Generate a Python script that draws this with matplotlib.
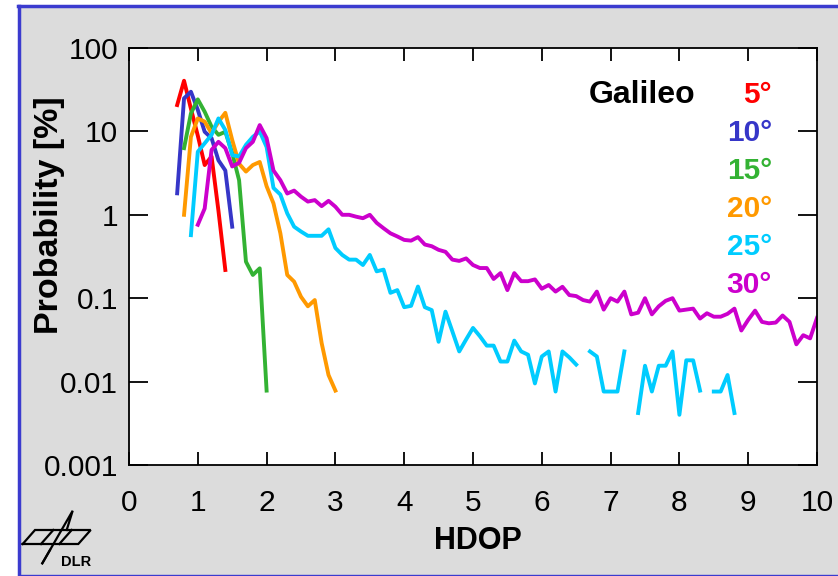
import numpy as np
import matplotlib.pyplot as plt
from matplotlib.patches import Rectangle
from matplotlib.lines import Line2D
from matplotlib.ticker import NullLocator

plt.rcParams['font.family'] = ['Liberation Sans', 'DejaVu Sans']

# elevation masks, colours, first HDOP bin of each curve
labels = ['5°', '10°', '15°', '20°', '25°', '30°']
colors = ['#ff0000', '#3636c8', '#33b233', '#ff9900', '#00ccff', '#cc00cc']
start = [0.7, 0.7, 0.8, 0.8, 0.9, 1.0]

# probability [%] per 0.1 HDOP bin (nan = empty bin)
p5 = [20.7, 40.5, 18.7, 8.9, 3.95, 5.0, 1.12, 0.218]
p10 = [1.81, 24.9, 29.9, 18.1, 9.9, 8.3, 4.5, 3.4, 0.72]
p15 = [6.3, 16.4, 24.2, 17.2, 11.4, 9.1, 9.9, 5.5, 2.6, 0.274, 0.19, 0.228, 0.0078]
p20 = [1.0, 8.6, 14.3, 13.1, 9.5, 13.0, 16.7, 7.9, 4.1, 3.3, 3.95, 4.3, 2.2,
       1.37, 0.6, 0.19, 0.158, 0.104, 0.08, 0.095, 0.029, 0.012, 0.0078]
p25 = [0.57, 5.7, 7.2, 9.1, 14.3, 10.4, 5.2, 5.0, 6.9, 8.6, 10.0, 6.5, 2.1,
       1.75, 1.04, 0.72, 0.63, 0.56, 0.56, 0.56, 0.67, 0.40, 0.33, 0.29,
       0.29, 0.25, 0.33, 0.21, 0.22, 0.116, 0.125, 0.078, 0.081, 0.138,
       0.078, 0.072, 0.030, 0.069, 0.040, 0.023, 0.032, 0.044, 0.035, 0.027,
       0.027, 0.0174, 0.0174, 0.031, 0.023, 0.021, 0.0095, 0.020, 0.023,
       0.0076, 0.023, 0.0195, 0.016, np.nan, 0.023, 0.020, 0.0076, 0.0076,
       0.0076, 0.023, np.nan, 0.0042, 0.0155, 0.0076, 0.0155, 0.0155, 0.023,
       0.004, 0.018, 0.018, 0.0078, np.nan, 0.0076, 0.0076, 0.012, 0.0042]
p30 = [0.76, 1.19, 6.0, 7.5, 6.3, 3.8, 4.2, 6.3, 7.5, 11.9, 8.3, 3.4, 2.6,
       1.8, 1.95, 1.65, 1.44, 1.5, 1.27, 1.47, 1.25, 1.0, 1.0, 0.95, 0.91,
       1.0, 0.8, 0.69, 0.60, 0.55, 0.50, 0.49, 0.54, 0.44, 0.42, 0.38, 0.36,
       0.29, 0.28, 0.30, 0.25, 0.23, 0.23, 0.17, 0.20, 0.125, 0.20, 0.16,
       0.16, 0.168, 0.13, 0.144, 0.12, 0.137, 0.109, 0.106, 0.095, 0.091,
       0.12, 0.073, 0.10, 0.091, 0.12, 0.064, 0.067, 0.10, 0.064, 0.08,
       0.093, 0.10, 0.071, 0.073, 0.075, 0.057, 0.066, 0.06, 0.06, 0.065,
       0.075, 0.041, 0.055, 0.071, 0.052, 0.05, 0.051, 0.062, 0.052, 0.028,
       0.036, 0.033, 0.058]
series = [p5, p10, p15, p20, p25, p30]

yticks = [0.001, 0.01, 0.1, 1, 10, 100]
ytick_labels = ['0.001', '0.01', '0.1', '1', '10', '100']

W, H = 838, 576
fig = plt.figure(figsize=(W / 100, H / 100), dpi=100)
fig.patch.set_facecolor('white')

def fp(x, y):
    # image pixel -> figure fraction
    return x / W, 1 - y / H

# slide background with blue border
fig.patches.append(Rectangle(fp(19, 575), 1, 568 / H, transform=fig.transFigure,
                             facecolor='#dcdcdc', edgecolor='none', zorder=-10))
blue = '#3b3bcf'
for (x0, y0), (x1, y1), lw in [((19, 576), (19, 5.5), 2.5),
                               ((17.8, 5.5), (838, 5.5), 2.5),
                               ((19, 575), (838, 575), 1.0)]:
    a, b = fp(x0, y0)
    c, d = fp(x1, y1)
    fig.add_artist(Line2D([a, c], [b, d], color=blue, lw=lw,
                          transform=fig.transFigure, zorder=-5))

ax = fig.add_axes([129 / W, 111 / H, 688 / W, 417 / H])
ax.set_facecolor('white')

for vals, s, c in zip(series, start, colors):
    x = np.round(s + 0.1 * np.arange(len(vals)), 1)
    ax.plot(x, vals, color=c, lw=2.8)

ax.set_yscale('log')
ax.set_xlim(0, 10)
ax.set_ylim(0.001, 100)
ax.set_xticks(range(11))
ax.set_yticks(yticks)
ax.set_yticklabels(ytick_labels)
ax.yaxis.set_minor_locator(NullLocator())
ax.tick_params(axis='both', direction='in', top=True, right=True,
               labelsize=21.5, width=1.3, colors='black')
ax.tick_params(axis='y', length=14, pad=8)
ax.tick_params(axis='x', length=9.5, pad=17)
for sp in ax.spines.values():
    sp.set_linewidth(1.3)

ax.set_xlabel('HDOP', fontsize=22, fontweight='bold')
ax.xaxis.set_label_coords(0.507, -0.146)
ax.set_ylabel('Probability [%]', fontsize=24.5, fontweight='bold')
ax.yaxis.set_label_coords(-0.093, 0.60)

ax.text(0.6686, 0.8674, 'Galileo', transform=ax.transAxes, ha='left',
        va='baseline', fontsize=23, fontweight='bold')
for i, (lab, c) in enumerate(zip(labels, colors)):
    ax.text(0.9346, 0.8688 - i * 0.0914, lab, transform=ax.transAxes, ha='right',
            va='baseline', fontsize=21.5, fontweight='bold', color=c)

# DLR logo
logo = [[(22.7, 544), (35, 530), (90.7, 530), (78.3, 544), (22.7, 544)],
        [(53.3, 530), (41, 544)],
        [(71.7, 530), (59.3, 544)],
        [(42.3, 563.3), (72.7, 510.7), (66.7, 530)],
        [(42.3, 563.3), (50, 550)]]
for seg in logo:
    pts = [fp(px, py) for px, py in seg]
    fig.add_artist(Line2D([p[0] for p in pts], [p[1] for p in pts], color='black',
                          lw=1.6, transform=fig.transFigure, solid_joinstyle='miter'))
fig.text(*fp(76, 562), 'DLR', ha='center', va='center', fontsize=10.5,
         fontweight='bold')

fig.savefig('out.png', dpi=100)
